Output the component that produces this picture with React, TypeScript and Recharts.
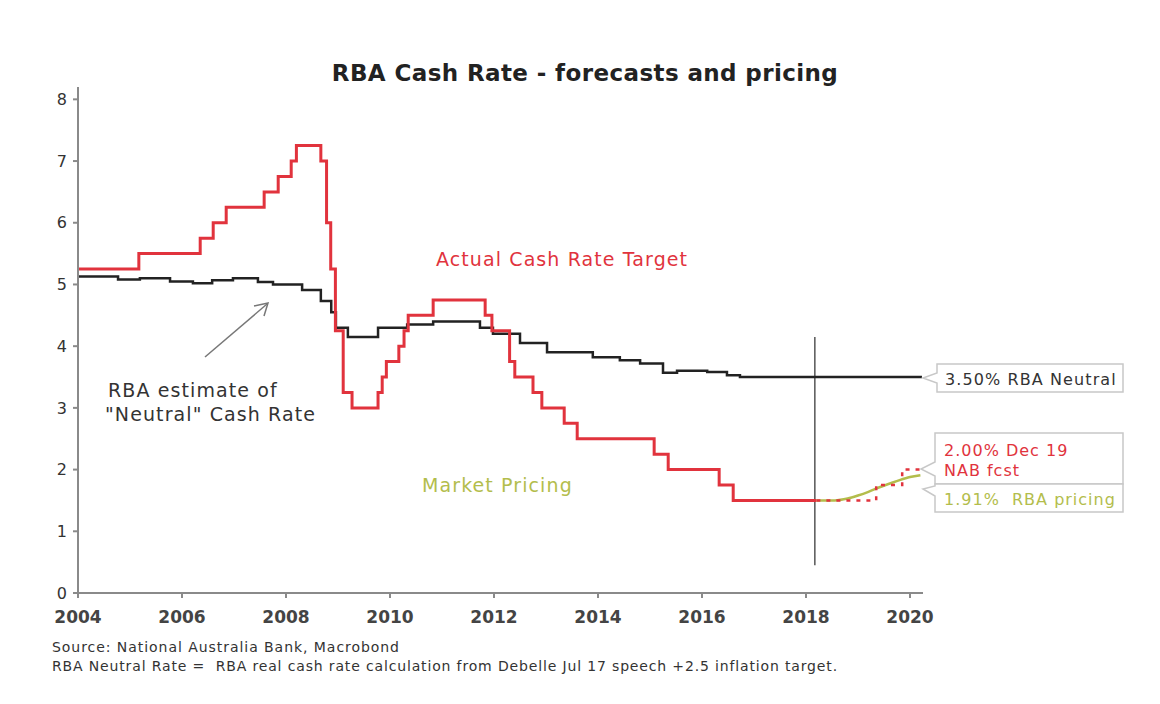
import React from 'react';
import { LineChart, Line, XAxis, YAxis, ReferenceLine } from 'recharts';

// RBA cash rate target (actual), step dates as decimal years
const cashDates = [
  2004.0, 2005.17, 2006.35, 2006.6, 2006.85, 2007.58, 2007.85, 2008.1, 2008.2, 2008.67,
  2008.78, 2008.86, 2008.95, 2009.1, 2009.27, 2009.77, 2009.85, 2009.93, 2010.17, 2010.27,
  2010.35, 2010.83, 2011.83, 2011.96, 2012.3, 2012.4, 2012.75, 2012.92, 2013.35, 2013.6,
  2015.08, 2015.35, 2016.33, 2016.6, 2018.2,
];
const cashRates = [
  5.25, 5.5, 5.75, 6.0, 6.25, 6.5, 6.75, 7.0, 7.25, 7.0,
  6.0, 5.25, 4.25, 3.25, 3.0, 3.25, 3.5, 3.75, 4.0, 4.25,
  4.5, 4.75, 4.5, 4.25, 3.75, 3.5, 3.25, 3.0, 2.75, 2.5,
  2.25, 2.0, 1.75, 1.5, 1.5,
];

// RBA estimate of neutral rate
const neutralDates = [
  2004.0, 2004.77, 2005.19, 2005.77, 2006.21, 2006.58, 2006.98, 2007.46, 2007.75, 2008.31,
  2008.67, 2008.87, 2008.96, 2009.19, 2009.77, 2010.33, 2010.83, 2011.73, 2011.98, 2012.5,
  2013.02, 2013.9, 2014.42, 2014.81, 2015.25, 2015.52, 2016.1, 2016.48, 2016.73, 2020.23,
];
const neutralRates = [
  5.13, 5.08, 5.1, 5.05, 5.02, 5.07, 5.1, 5.04, 5.0, 4.91,
  4.73, 4.55, 4.3, 4.15, 4.3, 4.35, 4.4, 4.3, 4.2, 4.05,
  3.9, 3.82, 3.77, 3.72, 3.57, 3.6, 3.58, 3.53, 3.5, 3.5,
];

// market pricing (OIS)
const marketDates = [2018.2, 2018.55, 2018.8, 2019.0, 2019.2, 2019.4, 2019.6, 2019.8, 2020.0, 2020.2];
const marketRates = [1.5, 1.5, 1.53, 1.58, 1.64, 1.71, 1.77, 1.83, 1.88, 1.91];

// NAB forecast
const nabDates = [2018.2, 2019.35, 2019.85, 2020.2];
const nabRates = [1.5, 1.75, 2.0, 2.0];

const yearTicks = [2004, 2006, 2008, 2010, 2012, 2014, 2016, 2018, 2020];
const rateTicks = [0, 1, 2, 3, 4, 5, 6, 7, 8];

const toPts = (xs: number[], ys: number[]) => xs.map((x, i) => ({ x, y: ys[i] }));

const cashData = toPts(cashDates, cashRates);
const neutralData = toPts(neutralDates, neutralRates);
const marketData = toPts(marketDates, marketRates);
const nabData = toPts(nabDates, nabRates);

const W = 1150;
const H = 690;
const FONT = '"DejaVu Sans", "Open Sans", sans-serif';
const RED = '#e1333d';
const GREEN = '#b3bd4c';

export default function App() {
  return (
    <div style={{ position: 'relative', width: W, height: H, fontFamily: FONT, background: '#fff' }}>
      <LineChart width={W} height={H} margin={{ top: 79, right: 235, bottom: 75, left: 30 }}>
        <XAxis
          type="number"
          dataKey="x"
          domain={[2004, 2020.25]}
          ticks={yearTicks}
          allowDataOverflow
          stroke="#8a8a8a"
          strokeWidth={2}
          tickSize={5}
          tickMargin={13}
          height={30}
          tick={{ fill: '#444', fontSize: 17, fontWeight: 700, fontFamily: FONT }}
        />
        <YAxis
          type="number"
          dataKey="y"
          domain={[0, 8.2]}
          ticks={rateTicks}
          allowDataOverflow
          stroke="#8a8a8a"
          strokeWidth={2}
          tickSize={5}
          tickMargin={6}
          width={40}
          tick={{ fill: '#333', fontSize: 16, fontFamily: FONT }}
        />
        <ReferenceLine
          segment={[{ x: 2018.17, y: 4.15 }, { x: 2018.17, y: 0.45 }]}
          stroke="#555"
          strokeWidth={1.5}
        />
        <Line
          data={neutralData}
          dataKey="y"
          type="stepAfter"
          stroke="#222"
          strokeWidth={2.5}
          dot={false}
          isAnimationActive={false}
        />
        <Line
          data={cashData}
          dataKey="y"
          type="stepAfter"
          stroke={RED}
          strokeWidth={3}
          dot={false}
          isAnimationActive={false}
        />
        <Line
          data={marketData}
          dataKey="y"
          type="monotone"
          stroke={GREEN}
          strokeWidth={2.5}
          dot={false}
          isAnimationActive={false}
        />
        <Line
          data={nabData}
          dataKey="y"
          type="stepAfter"
          stroke={RED}
          strokeWidth={2.5}
          strokeDasharray="4 6"
          dot={false}
          isAnimationActive={false}
        />
      </LineChart>

      {/* titles, notes and callouts, drawn in page coordinates */}
      <svg
        width={W}
        height={H}
        style={{ position: 'absolute', left: 0, top: 0, pointerEvents: 'none' }}
      >
        <g transform="translate(-8,-8)" fontFamily={FONT}>
          <text x={585} y={81} textAnchor="middle" fontSize={23} fontWeight={700} fill="#222" letterSpacing={0.4}>
            RBA Cash Rate - forecasts and pricing
          </text>

          <text x={436} y={266} fontSize={19} fill={RED} letterSpacing={1.1}>Actual Cash Rate Target</text>
          <text x={422} y={492} fontSize={19} fill={GREEN} letterSpacing={1.1}>Market Pricing</text>
          <text x={108} y={397} fontSize={19} fill="#333" letterSpacing={1.1}>RBA estimate of</text>
          <text x={105} y={421} fontSize={19} fill="#333" letterSpacing={1.1}>"Neutral" Cash Rate</text>

          <line x1={205} y1={357} x2={267} y2={304} stroke="#777" strokeWidth={1.5} />
          <polyline points="254,306 268,303 264,316" fill="none" stroke="#777" strokeWidth={1.5} />

          {/* callout boxes */}
          <path
            d="M937 364 L1123 364 L1123 392 L937 392 L937 383 L923 378 L937 373 Z"
            fill="#fff"
            stroke="#c8c8c8"
            strokeWidth={1.5}
          />
          <text x={945} y={385} fontSize={16} fill="#333" letterSpacing={1.1}>3.50% RBA Neutral</text>

          <path
            d="M935 433 L1123 433 L1123 484 L935 484 L935 476 L921 469 L935 462 Z"
            fill="#fff"
            stroke="#c8c8c8"
            strokeWidth={1.5}
          />
          <text x={944} y={456} fontSize={16} fill={RED} letterSpacing={1}>2.00% Dec 19</text>
          <text x={944} y={476} fontSize={16} fill={RED} letterSpacing={1}>NAB fcst</text>

          <path
            d="M935 484 L1123 484 L1123 512 L935 512 L935 496 L923 489 L935 486 Z"
            fill="#fff"
            stroke="#c8c8c8"
            strokeWidth={1.5}
          />
          <text x={944} y={505} fontSize={16} fill={GREEN} letterSpacing={1} style={{ whiteSpace: 'pre' }}>
            1.91%  RBA pricing
          </text>

          <text x={52} y={652} fontSize={14} fill="#333" letterSpacing={0.95}>
            Source: National Australia Bank, Macrobond
          </text>
          <text x={52} y={671} fontSize={14} fill="#333" letterSpacing={0.85} style={{ whiteSpace: 'pre' }}>
            RBA Neutral Rate =  RBA real cash rate calculation from Debelle Jul 17 speech +2.5 inflation target.
          </text>
        </g>
      </svg>
    </div>
  );
}
